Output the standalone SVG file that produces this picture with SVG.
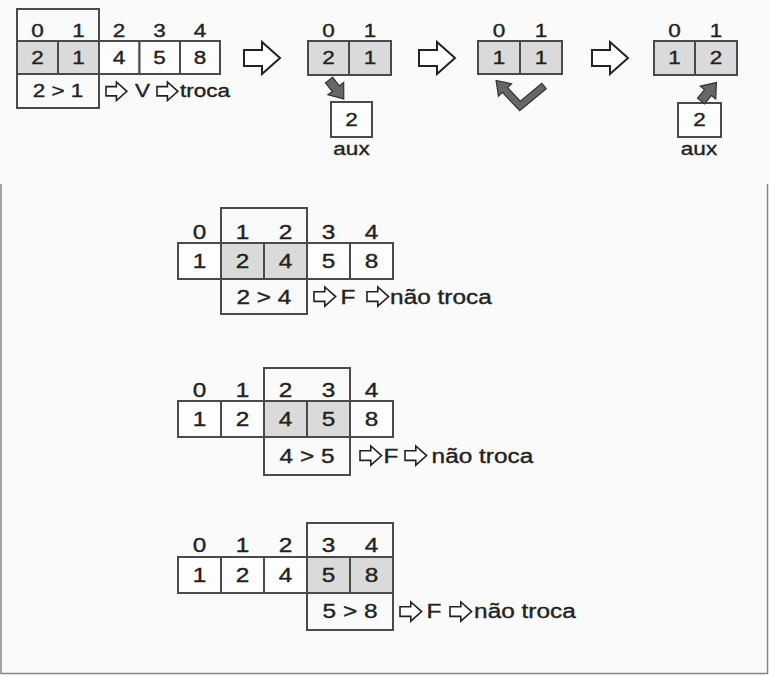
<svg xmlns="http://www.w3.org/2000/svg" xmlns:xlink="http://www.w3.org/1999/xlink" width="769" height="675" viewBox="0 0 769 675">
<style>
.cell{fill:#fdfdfd;stroke:#4a4a4a;stroke-width:2}
.sh{fill:#dadada;stroke:#4a4a4a;stroke-width:2}
.frame{fill:none;stroke:#4a4a4a;stroke-width:2}
.t{font-family:"Liberation Sans",Arial,sans-serif;fill:#222;stroke:#222;stroke-width:0.35;text-anchor:middle;transform-box:fill-box;transform-origin:center;transform:scaleX(1.25)}
.ts{font-size:18px}
.tl{font-size:19.5px}
.oa{fill:#fff;stroke:#222;stroke-width:2}
.oas{fill:#fff;stroke:#222;stroke-width:1.6}
.darr{fill:#666;stroke:#333;stroke-width:1.2;stroke-linejoin:miter}
</style>
<defs>
<path id="oarrow" d="M0,8 H18 V0 L36,16 L18,32 V24 H0 Z" vector-effect="non-scaling-stroke" stroke-linejoin="miter"/>
<path id="darrow" d="M0,-4.5 H11 V-10 L24,0 L11,10 V4.5 H0 Z"/>
</defs>
<rect x="0" y="0" width="769" height="675" fill="#fafafa"/>
<path d="M1,184 V673.5 H767.5 V184" fill="none" stroke="#888" stroke-width="1.5"/>

<g id="step1-compare">
<rect class="sh" x="17" y="41" width="41" height="33"/>
<rect class="sh" x="58" y="41" width="41" height="33"/>
<rect class="cell" x="99" y="41" width="40.5" height="33"/>
<rect class="cell" x="139.5" y="41" width="40.5" height="33"/>
<rect class="cell" x="180" y="41" width="40" height="33"/>
<rect class="frame" x="17" y="9" width="82" height="99"/>
<text class="t ts" x="37.5" y="37">0</text>
<text class="t ts" x="78.5" y="37">1</text>
<text class="t ts" x="119" y="37">2</text>
<text class="t ts" x="159.5" y="37">3</text>
<text class="t ts" x="200" y="37">4</text>
<text class="t ts" x="37.5" y="64">2</text>
<text class="t ts" x="78.5" y="64">1</text>
<text class="t ts" x="119" y="64">4</text>
<text class="t ts" x="159.5" y="64">5</text>
<text class="t ts" x="200" y="64">8</text>
<text class="t ts" x="58" y="97">2 &gt; 1</text>
<use href="#oarrow" class="oas" transform="translate(106,82) scale(0.58)"/>
<text class="t ts" x="142.5" y="97">V</text>
<use href="#oarrow" class="oas" transform="translate(157,82) scale(0.58)"/>
<text class="t ts" x="205" y="97">troca</text>
</g>

<g id="step2-to-aux">
<rect class="sh" x="308" y="41" width="41" height="34"/>
<rect class="sh" x="349" y="41" width="42" height="34"/>
<text class="t ts" x="328.5" y="37">0</text>
<text class="t ts" x="370" y="37">1</text>
<text class="t ts" x="328.5" y="64">2</text>
<text class="t ts" x="370" y="64">1</text>
<rect class="cell" x="331" y="102" width="41" height="35"/>
<text class="t ts" x="351.5" y="126">2</text>
<text class="t ts" x="351.5" y="155">aux</text>
</g>

<g id="step3-copy">
<rect class="sh" x="478" y="41" width="42" height="33"/>
<rect class="sh" x="520" y="41" width="42" height="33"/>
<text class="t ts" x="499" y="37">0</text>
<text class="t ts" x="541" y="37">1</text>
<text class="t ts" x="499" y="64">1</text>
<text class="t ts" x="541" y="64">1</text>
</g>

<g id="step4-from-aux">
<rect class="sh" x="654" y="41" width="41" height="34"/>
<rect class="sh" x="695" y="41" width="42" height="34"/>
<text class="t ts" x="674.5" y="37">0</text>
<text class="t ts" x="716" y="37">1</text>
<text class="t ts" x="674.5" y="64">1</text>
<text class="t ts" x="716" y="64">2</text>
<rect class="cell" x="678" y="103" width="43" height="34"/>
<text class="t ts" x="699.5" y="126">2</text>
<text class="t ts" x="699" y="155">aux</text>
</g>

<g id="connectors">
<use href="#oarrow" class="oa" transform="translate(244,42)"/>
<use href="#oarrow" class="oa" transform="translate(419,42)"/>
<use href="#oarrow" class="oa" transform="translate(592,42)"/>
<use href="#darrow" class="darr" transform="translate(329,80) rotate(52)"/>
<use href="#darrow" class="darr" transform="translate(701,101) rotate(-50)"/>
<polygon class="darr" points="546.2,88.7 519.7,110.8 502.4,92.4 498.4,96.2 496.1,80.5 511.6,83.8 507.6,87.6 520.3,101.2 541.8,83.3"/>
</g>

<g id="pass1">
<rect class="cell" x="178" y="243" width="43" height="36"/>
<rect class="sh" x="221" y="243" width="43" height="36"/>
<rect class="sh" x="264" y="243" width="43" height="36"/>
<rect class="cell" x="307" y="243" width="43" height="36"/>
<rect class="cell" x="350" y="243" width="43" height="36"/>
<rect class="frame" x="221" y="208" width="86" height="106"/>
<text class="t tl" x="199.5" y="239">0</text>
<text class="t tl" x="242.5" y="239">1</text>
<text class="t tl" x="285.5" y="239">2</text>
<text class="t tl" x="328.5" y="239">3</text>
<text class="t tl" x="371.5" y="239">4</text>
<text class="t tl" x="199.5" y="268">1</text>
<text class="t tl" x="242.5" y="268">2</text>
<text class="t tl" x="285.5" y="268">4</text>
<text class="t tl" x="328.5" y="268">5</text>
<text class="t tl" x="371.5" y="268">8</text>
<text class="t tl" x="264" y="304">2 &gt; 4</text>
<use href="#oarrow" class="oas" transform="translate(314,287) scale(0.6)"/>
<text class="t tl" x="348" y="304">F</text>
<use href="#oarrow" class="oas" transform="translate(367,287) scale(0.6)"/>
<text class="t tl" x="441" y="304">não troca</text>
</g>

<g id="pass2">
<rect class="cell" x="178" y="401" width="43" height="36"/>
<rect class="cell" x="221" y="401" width="43" height="36"/>
<rect class="sh" x="264" y="401" width="43" height="36"/>
<rect class="sh" x="307" y="401" width="43" height="36"/>
<rect class="cell" x="350" y="401" width="43" height="36"/>
<rect class="frame" x="264" y="368" width="86" height="107"/>
<text class="t tl" x="199.5" y="397">0</text>
<text class="t tl" x="242.5" y="397">1</text>
<text class="t tl" x="285.5" y="397">2</text>
<text class="t tl" x="328.5" y="397">3</text>
<text class="t tl" x="371.5" y="397">4</text>
<text class="t tl" x="199.5" y="426">1</text>
<text class="t tl" x="242.5" y="426">2</text>
<text class="t tl" x="285.5" y="426">4</text>
<text class="t tl" x="328.5" y="426">5</text>
<text class="t tl" x="371.5" y="426">8</text>
<text class="t tl" x="307" y="463">4 &gt; 5</text>
<use href="#oarrow" class="oas" transform="translate(360,446) scale(0.6)"/>
<text class="t tl" x="391" y="463">F</text>
<use href="#oarrow" class="oas" transform="translate(405,446) scale(0.6)"/>
<text class="t tl" x="482.5" y="463">não troca</text>
</g>

<g id="pass3">
<rect class="cell" x="178" y="557" width="43" height="36"/>
<rect class="cell" x="221" y="557" width="43" height="36"/>
<rect class="cell" x="264" y="557" width="43" height="36"/>
<rect class="sh" x="307" y="557" width="43" height="36"/>
<rect class="sh" x="350" y="557" width="43" height="36"/>
<rect class="frame" x="307" y="523" width="86" height="107"/>
<text class="t tl" x="199.5" y="552">0</text>
<text class="t tl" x="242.5" y="552">1</text>
<text class="t tl" x="285.5" y="552">2</text>
<text class="t tl" x="328.5" y="552">3</text>
<text class="t tl" x="371.5" y="552">4</text>
<text class="t tl" x="199.5" y="582">1</text>
<text class="t tl" x="242.5" y="582">2</text>
<text class="t tl" x="285.5" y="582">4</text>
<text class="t tl" x="328.5" y="582">5</text>
<text class="t tl" x="371.5" y="582">8</text>
<text class="t tl" x="350" y="618.5">5 &gt; 8</text>
<use href="#oarrow" class="oas" transform="translate(400,602) scale(0.6)"/>
<text class="t tl" x="434" y="618.5">F</text>
<use href="#oarrow" class="oas" transform="translate(450,602) scale(0.6)"/>
<text class="t tl" x="525" y="618.5">não troca</text>
</g>
</svg>
